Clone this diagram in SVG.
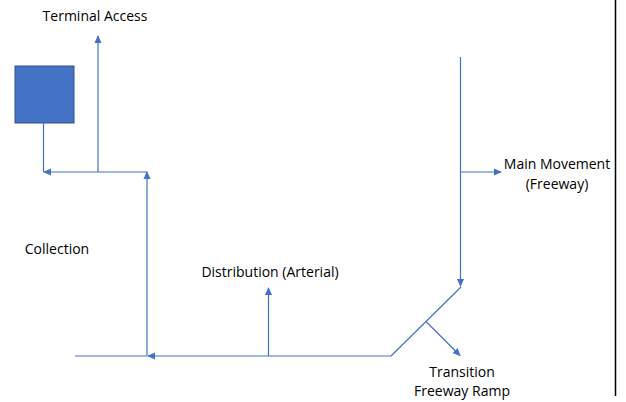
<svg xmlns="http://www.w3.org/2000/svg" width="626" height="402" viewBox="0 0 626 402">
<style>
text{font-family:"Open Sans","Liberation Sans",sans-serif;font-size:14px;fill:#000}
.c{stroke:#4472C4;stroke-width:1.2;fill:none}
</style>
<defs>
<marker id="a" markerWidth="8" markerHeight="8" refX="7" refY="4" orient="auto" markerUnits="userSpaceOnUse">
<path d="M0,0.5 L8,4 L0,7.5 Z" fill="#4472C4"/>
</marker>
</defs>
<rect width="626" height="402" fill="#fff"/>
<line x1="615.5" y1="0" x2="615.5" y2="396" stroke="#000" stroke-width="1.5"/>
<g id="terminal"><rect x="15" y="66" width="59" height="57" fill="#4472C4" stroke="#2F528F" stroke-width="1"/></g>
<g id="connectors">
<polyline class="c" points="43.5,123 43.5,172"/>
<line class="c" x1="147" y1="172" x2="44" y2="172" marker-end="url(#a)"/>
<line class="c" x1="98" y1="172" x2="98" y2="36" marker-end="url(#a)"/>
<line class="c" x1="147" y1="356" x2="147" y2="172" marker-end="url(#a)"/>
<line class="c" x1="75" y1="356" x2="147" y2="356"/>
<line class="c" x1="391" y1="356" x2="148" y2="356" marker-end="url(#a)"/>
<line class="c" x1="268.5" y1="356" x2="268.5" y2="288" marker-end="url(#a)"/>
<line class="c" x1="391" y1="356" x2="461" y2="287"/>
<line class="c" x1="460.5" y1="57" x2="460.5" y2="286" marker-end="url(#a)"/>
<line class="c" x1="460.5" y1="172" x2="501" y2="172" marker-end="url(#a)"/>
<line class="c" x1="426" y1="321.5" x2="460" y2="355.5" marker-end="url(#a)"/>
</g>
<g id="labels">
<text x="95" y="21" text-anchor="middle">Terminal Access</text>
<text x="557" y="169" text-anchor="middle">Main Movement</text>
<text x="557" y="189" text-anchor="middle">(Freeway)</text>
<text x="57" y="254" text-anchor="middle">Collection</text>
<text x="270" y="277" text-anchor="middle">Distribution (Arterial)</text>
<text x="462" y="377" text-anchor="middle">Transition</text>
<text x="462" y="396" text-anchor="middle">Freeway Ramp</text>
</g>
</svg>
